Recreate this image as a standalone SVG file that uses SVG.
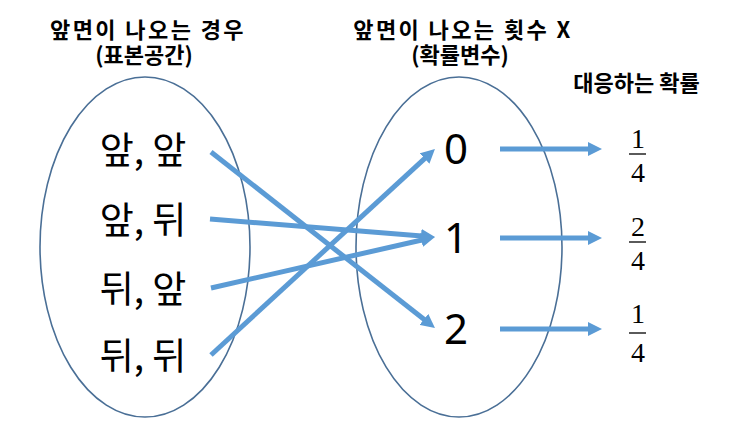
<svg xmlns="http://www.w3.org/2000/svg" width="731" height="432" viewBox="0 0 731 432">
<style>
.title{font-family:"Noto Sans CJK KR","Noto Sans",sans-serif;font-weight:bold;font-size:22px;fill:#000;text-anchor:middle}
.wide{letter-spacing:2.4px}
.item{font-family:"Noto Sans CJK KR","Noto Sans",sans-serif;font-size:37px;fill:#000;text-anchor:middle}
.num{font-family:"Noto Sans","Noto Sans CJK KR",sans-serif;font-size:42px;fill:#000;text-anchor:middle}
.frac{font-family:"Liberation Serif","DejaVu Serif",serif;font-size:28px;fill:#000;text-anchor:middle}
.bar{stroke:#000;stroke-width:1.3}
.set{fill:none;stroke:#4a6f96;stroke-width:1.6}
.conn{fill:none;stroke:#5b9bd5;stroke-width:5;marker-end:url(#ah)}
</style>
<defs>
<marker id="ah" markerUnits="userSpaceOnUse" markerWidth="14" markerHeight="14" refX="4" refY="7" orient="auto">
<path d="M0,0 L14,7 L0,14 z" fill="#5b9bd5"/>
</marker>
</defs>
<rect width="731" height="432" fill="#fff"/>
<g id="title-sample">
<text class="title wide" x="148" y="38">앞면이 나오는 경우</text>
<text class="title" x="144" y="63">(표본공간)</text>
</g>
<g id="title-rv">
<text class="title wide" x="463" y="38">앞면이 나오는 횟수 X</text>
<text class="title" x="460" y="63">(확률변수)</text>
</g>
<g id="title-prob">
<text class="title" x="636.5" y="91">대응하는 확률</text>
</g>
<g id="sample-space">
<ellipse class="set" cx="145" cy="247" rx="105" ry="170"/>
<text class="item" x="143" y="164">앞, 앞</text>
<text class="item" x="143" y="234">앞, 뒤</text>
<text class="item" x="143" y="303">뒤, 앞</text>
<text class="item" x="143" y="370">뒤, 뒤</text>
</g>
<g id="random-variable">
<ellipse class="set" cx="459" cy="247" rx="103" ry="170"/>
<text class="num" x="456" y="164">0</text>
<text class="num" x="456" y="253">1</text>
<text class="num" x="456" y="344">2</text>
</g>
<g id="prob-0">
<text class="frac" x="638" y="148">1</text>
<line class="bar" x1="629" y1="154" x2="646" y2="154"/>
<text class="frac" x="638" y="182">4</text>
</g>
<g id="prob-1">
<text class="frac" x="638" y="236">2</text>
<line class="bar" x1="629" y1="242" x2="646" y2="242"/>
<text class="frac" x="638" y="270">4</text>
</g>
<g id="prob-2">
<text class="frac" x="638" y="323">1</text>
<line class="bar" x1="629" y1="333" x2="646" y2="333"/>
<text class="frac" x="638" y="362">4</text>
</g>
<g id="connectors">
<line class="conn" x1="211" y1="152" x2="427.1" y2="321.8"/>
<line class="conn" x1="210" y1="219" x2="425" y2="236.2"/>
<line class="conn" x1="211" y1="288" x2="425.2" y2="239.2"/>
<line class="conn" x1="211" y1="355" x2="427.6" y2="155.8"/>
<line class="conn" x1="500" y1="149" x2="592" y2="149"/>
<line class="conn" x1="500" y1="238" x2="592" y2="238"/>
<line class="conn" x1="500" y1="329" x2="592" y2="329"/>
</g>
</svg>
